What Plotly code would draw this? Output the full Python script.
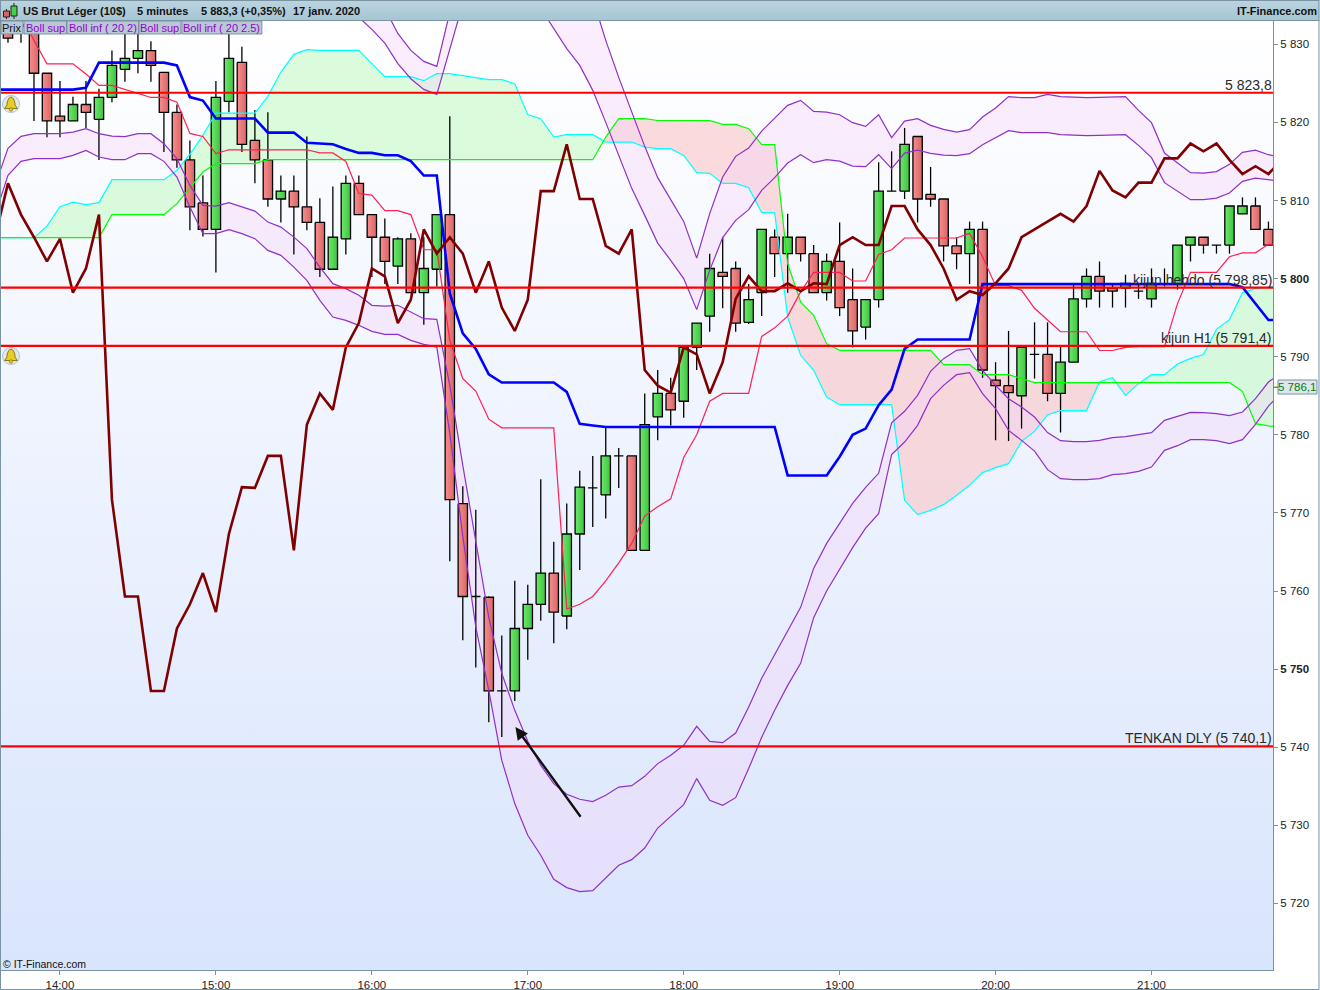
import plotly.graph_objects as go
import numpy as np

# ---------- data ----------
time_ticks = [4, 16, 28, 40, 52, 64, 76, 88]
time_labels = ["14:00", "15:00", "16:00", "17:00", "18:00", "19:00", "20:00", "21:00"]
price_ticks = [5830, 5820, 5810, 5800, 5790, 5780, 5770, 5760, 5750, 5740, 5730, 5720]
price_labels = ["5 830", "5 820", "5 810", "<b>5 800</b>", "5 790", "5 780", "5 770", "5 760", "<b>5 750</b>", "5 740", "5 730", "5 720"]

opens = [5832.0, 5832.5, 5831.5, 5826.3, 5820.8, 5820.2, 5822.3, 5820.4, 5823.2, 5826.8,
         5828.2, 5829.2, 5826.4, 5821.3, 5815.2, 5809.7, 5806.3, 5822.7, 5827.7, 5817.7,
         5815.2, 5810.2, 5811.2, 5809.2, 5807.2, 5801.2, 5805.1, 5812.2, 5808.2, 5805.3,
         5801.6, 5805.1, 5798.2, 5801.2, 5808.2, 5771.2, 5759.3, 5759.2, 5747.2, 5747.2,
         5755.2, 5758.3, 5762.3, 5756.8, 5767.3, 5773.2, 5772.3, 5777.3, 5777.3, 5765.2,
         5782.3, 5785.3, 5784.3, 5791.2, 5795.2, 5800.8, 5801.3, 5794.4, 5798.2, 5805.3,
         5803.2, 5805.3, 5803.2, 5798.2, 5802.2, 5797.3, 5793.8, 5797.3, 5811.2, 5811.2,
         5818.2, 5810.8, 5810.2, 5804.2, 5803.2, 5806.3, 5787.0, 5786.3, 5785.0, 5790.3,
         5790.3, 5785.3, 5789.3, 5797.4, 5800.3, 5798.8, 5798.8, 5798.4, 5797.4, 5799.3,
         5799.3, 5804.3, 5805.3, 5804.3, 5804.3, 5808.3, 5809.3, 5806.3]
highs = [5833.0, 5833.0, 5833.0, 5826.3, 5825.3, 5823.3, 5825.3, 5824.3, 5829.2, 5832.0,
         5832.4, 5830.4, 5826.4, 5822.3, 5817.7, 5813.2, 5825.3, 5832.0, 5829.7, 5821.6,
         5821.3, 5813.2, 5813.2, 5818.2, 5810.3, 5811.8, 5813.2, 5813.2, 5808.2, 5807.7,
         5805.3, 5805.8, 5805.3, 5808.2, 5820.8, 5773.4, 5770.4, 5759.3, 5754.3, 5761.3,
         5760.8, 5774.3, 5766.3, 5771.2, 5775.4, 5777.3, 5781.1, 5778.3, 5777.3, 5785.3,
         5788.3, 5787.3, 5791.2, 5794.3, 5803.2, 5805.3, 5802.2, 5799.3, 5806.3, 5806.3,
         5808.3, 5805.3, 5804.3, 5803.2, 5807.2, 5801.3, 5797.3, 5814.9, 5816.3, 5819.3,
         5818.2, 5814.3, 5810.2, 5805.3, 5807.3, 5807.3, 5789.3, 5793.3, 5791.2, 5794.4,
         5794.4, 5791.3, 5799.4, 5801.3, 5802.2, 5799.4, 5800.5, 5799.4, 5801.3, 5801.3,
         5804.3, 5805.3, 5805.3, 5804.3, 5809.3, 5810.4, 5810.4, 5807.3]
lows = [5830.2, 5830.2, 5820.2, 5818.1, 5818.1, 5820.2, 5819.3, 5815.2, 5822.6, 5825.2,
        5826.3, 5825.2, 5816.2, 5814.2, 5806.2, 5805.4, 5800.8, 5821.3, 5816.2, 5812.2,
        5809.2, 5807.2, 5803.1, 5806.2, 5800.2, 5801.2, 5803.1, 5808.2, 5800.2, 5799.3,
        5799.3, 5798.2, 5794.1, 5799.0, 5763.8, 5753.7, 5750.2, 5743.2, 5741.3, 5745.9,
        5751.2, 5756.2, 5753.3, 5755.1, 5762.7, 5768.2, 5769.3, 5773.2, 5765.2, 5765.2,
        5779.3, 5781.2, 5782.2, 5788.3, 5793.2, 5796.2, 5793.2, 5794.2, 5795.2, 5800.2,
        5798.2, 5802.2, 5798.2, 5797.2, 5795.2, 5791.2, 5792.2, 5796.3, 5811.2, 5810.2,
        5807.2, 5809.2, 5802.2, 5801.2, 5799.3, 5787.3, 5779.3, 5779.2, 5780.8, 5787.2,
        5784.3, 5780.3, 5789.3, 5796.3, 5796.3, 5796.3, 5796.3, 5797.4, 5796.3, 5799.0,
        5798.6, 5802.2, 5803.2, 5803.2, 5803.2, 5808.3, 5806.3, 5804.3]
closes = [5830.8, 5832.3, 5826.3, 5820.2, 5820.2, 5822.3, 5821.3, 5823.2, 5827.3, 5828.2,
          5829.2, 5827.3, 5821.3, 5815.2, 5809.2, 5806.3, 5823.2, 5828.2, 5817.2, 5815.2,
          5810.2, 5811.2, 5809.2, 5807.2, 5801.2, 5805.3, 5812.2, 5808.2, 5805.3, 5802.2,
          5805.1, 5798.2, 5801.3, 5808.2, 5771.7, 5759.3, 5759.3, 5747.2, 5747.2, 5755.2,
          5758.3, 5762.3, 5757.3, 5767.3, 5773.3, 5773.2, 5777.3, 5777.3, 5765.2, 5781.3,
          5785.3, 5783.2, 5791.2, 5794.3, 5801.3, 5800.3, 5794.3, 5797.3, 5806.3, 5803.2,
          5805.3, 5803.2, 5798.2, 5802.2, 5796.3, 5793.3, 5797.3, 5811.2, 5811.2, 5817.2,
          5810.2, 5810.2, 5804.2, 5803.2, 5806.3, 5788.3, 5786.3, 5785.4, 5791.2, 5790.3,
          5785.3, 5789.3, 5797.4, 5800.3, 5798.4, 5798.4, 5799.4, 5798.4, 5799.4, 5799.3,
          5804.3, 5805.3, 5804.3, 5804.3, 5809.3, 5809.3, 5806.3, 5804.3]

# lines below start one bar before the first candle and end one bar after the last
lagging = [5805.3, 5812.2, 5808.2, 5805.3, 5802.2, 5805.1, 5798.2, 5801.3, 5808.2, 5771.7,
           5759.3, 5759.3, 5747.2, 5747.2, 5755.2, 5758.3, 5762.3, 5757.3, 5767.3, 5773.3,
           5773.2, 5777.3, 5777.3, 5765.2, 5781.3, 5785.3, 5783.2, 5791.2, 5794.3, 5801.3,
           5800.3, 5794.3, 5797.3, 5806.3, 5803.2, 5805.3, 5803.2, 5798.2, 5802.2, 5796.3,
           5793.3, 5797.3, 5811.2, 5811.2, 5817.2, 5810.2, 5810.2, 5804.2, 5803.2, 5806.3,
           5788.3, 5786.3, 5785.4, 5791.2, 5790.3, 5785.3, 5789.3, 5797.4, 5800.3, 5798.4,
           5798.4, 5799.4, 5798.4, 5799.4, 5799.3, 5804.3, 5805.3, 5804.3, 5804.3, 5809.3,
           5809.3, 5806.3, 5804.3, 5801.3, 5797.3, 5798.4, 5797.9, 5799.4, 5801.3, 5805.3,
           5806.3, 5807.3, 5808.3, 5807.3, 5809.3, 5813.8, 5811.3, 5810.4, 5812.3, 5812.3,
           5815.4, 5815.4, 5817.3, 5816.3, 5817.3, 5815.2, 5813.4, 5814.4, 5813.4, 5815.2]
tenkan = [5838.0, 5836.0, 5833.8, 5830.5, 5827.5, 5827.5, 5827.5, 5826.2, 5824.75, 5824.75,
          5824.2, 5823.7, 5823.2, 5823.2, 5822.6, 5818.6, 5818.2, 5816.0, 5816.5, 5816.5,
          5816.5, 5816.5, 5816.5, 5816.5, 5816.5, 5816.1, 5816.1, 5815.0, 5810.9, 5810.7,
          5808.7, 5808.7, 5808.2, 5803.7, 5803.7, 5792.1, 5787.2, 5785.6, 5782.0, 5780.9,
          5780.9, 5780.9, 5780.9, 5780.9, 5757.7, 5758.3, 5759.3, 5761.3, 5763.6, 5766.1,
          5769.6, 5770.8, 5771.8, 5777.1, 5780.0, 5784.3, 5785.3, 5785.3, 5785.3, 5792.6,
          5793.7, 5795.2, 5798.3, 5800.8, 5800.8, 5800.8, 5799.7, 5799.7, 5803.1, 5803.7,
          5805.2, 5805.2, 5805.2, 5805.2, 5805.2, 5805.8, 5802.8, 5799.1, 5799.1, 5798.5,
          5796.2, 5794.7, 5793.2, 5793.2, 5793.2, 5790.8, 5790.8, 5791.2, 5791.3, 5791.3,
          5791.3, 5796.8, 5800.8, 5800.8, 5800.8, 5802.8, 5803.3, 5803.3, 5804.4, 5804.4]
kijun = [5824.2, 5824.2, 5824.2, 5824.2, 5824.2, 5824.2, 5824.2, 5824.45, 5827.66, 5827.66,
         5827.66, 5827.66, 5827.66, 5827.66, 5827.3, 5823.25, 5822.8, 5820.5, 5820.5, 5820.5,
         5820.5, 5818.7, 5818.7, 5818.7, 5817.4, 5817.3, 5817.2, 5816.6, 5816.1, 5816.1,
         5815.8, 5815.8, 5815.05, 5813.2, 5813.2, 5798.1, 5793.0, 5791.0, 5787.75, 5786.7,
         5786.7, 5786.7, 5786.7, 5786.7, 5785.5, 5781.4, 5781.2, 5781.0, 5781.0, 5781.0,
         5781.0, 5781.0, 5781.0, 5781.0, 5781.0, 5781.0, 5781.0, 5781.0, 5781.0, 5781.0,
         5781.0, 5774.8, 5774.8, 5774.8, 5774.8, 5777.2, 5780.0, 5780.8, 5783.8, 5785.8,
         5791.0, 5792.2, 5792.2, 5792.2, 5792.2, 5792.2, 5799.3, 5799.3, 5799.3, 5799.3,
         5799.3, 5799.3, 5799.3, 5799.3, 5799.3, 5799.3, 5799.3, 5799.3, 5799.3, 5799.3,
         5799.3, 5799.3, 5799.3, 5799.3, 5799.3, 5799.3, 5798.9, 5796.8, 5794.7, 5794.7]
span_a = [5805.25, 5805.25, 5805.25, 5805.25, 5806.73, 5809.22, 5809.8, 5809.47, 5809.73, 5812.67,
          5812.67, 5812.67, 5812.67, 5812.67, 5813.86, 5815.91, 5818.34, 5821.2, 5821.2, 5821.2,
          5821.2, 5823.34, 5826.45, 5828.72, 5829.32, 5829.23, 5829.23, 5829.23, 5829.23, 5827.53,
          5825.86, 5825.86, 5825.86, 5825.35, 5826.24, 5826.24, 5825.94, 5825.73, 5825.48, 5825.48,
          5824.96, 5821.0, 5820.48, 5818.13, 5818.43, 5818.43, 5818.43, 5817.49, 5817.49, 5817.49,
          5816.85, 5816.64, 5816.64, 5815.78, 5813.57, 5813.48, 5812.2, 5812.2, 5811.65, 5808.45,
          5808.45, 5795.08, 5790.18, 5788.26, 5784.84, 5783.86, 5783.86, 5783.86, 5783.86, 5783.86,
          5771.61, 5769.78, 5770.33, 5771.06, 5772.25, 5773.53, 5775.16, 5775.8, 5776.31, 5779.16,
          5780.44, 5782.58, 5783.1, 5783.1, 5783.1, 5786.81, 5787.32, 5785.05, 5786.55, 5787.7,
          5787.7, 5789.06, 5789.79, 5790.27, 5793.5, 5794.75, 5798.2, 5798.72, 5798.92, 5799.1]
span_b = [5805.25, 5805.25, 5805.25, 5805.25, 5805.25, 5805.25, 5805.25, 5805.25, 5805.25, 5808.19,
          5808.19, 5808.19, 5808.19, 5808.19, 5809.6, 5811.65, 5813.65, 5814.72, 5814.72, 5814.72,
          5814.72, 5815.23, 5815.23, 5815.23, 5815.23, 5815.23, 5815.23, 5815.23, 5815.23, 5815.23,
          5815.23, 5815.23, 5815.23, 5815.23, 5815.23, 5815.23, 5815.23, 5815.23, 5815.23, 5815.23,
          5815.23, 5815.23, 5815.23, 5815.23, 5815.23, 5815.23, 5815.23, 5818.13, 5820.48, 5820.48,
          5820.48, 5820.25, 5820.23, 5820.23, 5820.23, 5820.23, 5819.75, 5819.75, 5819.2, 5817.15,
          5817.15, 5801.92, 5797.0, 5795.3, 5791.67, 5790.82, 5790.82, 5790.82, 5790.82, 5790.82,
          5790.82, 5790.82, 5790.82, 5788.98, 5788.98, 5788.98, 5787.7, 5787.7, 5787.7, 5787.19,
          5786.68, 5786.68, 5786.68, 5786.68, 5786.68, 5786.68, 5786.68, 5786.68, 5786.68, 5786.68,
          5786.68, 5786.68, 5786.68, 5786.68, 5786.68, 5786.68, 5785.57, 5781.43, 5781.15, 5780.96]
lower_2 = [5811.9, 5816.68, 5818.22, 5818.56, 5818.56, 5818.56, 5818.77, 5819.2, 5818.56, 5818.26,
           5818.18, 5818.56, 5818.56, 5817.28, 5815.36, 5811.94, 5809.38, 5809.29, 5809.73, 5809.16,
           5808.65, 5807.24, 5806.6, 5805.32, 5803.84, 5801.48, 5799.36, 5798.72, 5797.86, 5796.58,
           5796.49, 5796.58, 5795.72, 5794.87, 5794.78, 5786.33, 5776.09, 5766.23, 5756.63, 5749.46,
           5744.72, 5740.75, 5737.68, 5735.33, 5733.97, 5733.33, 5733.03, 5733.84, 5734.9, 5735.08,
           5736.27, 5737.9, 5738.96, 5740.24, 5742.67, 5740.75, 5740.58, 5741.81, 5745.14, 5748.82,
           5751.89, 5754.96, 5757.91, 5762.9, 5766.1, 5768.66, 5771.23, 5773.27, 5775.07, 5781.53,
           5783.01, 5785.05, 5788.13, 5789.75, 5790.82, 5791.03, 5788.26, 5786.33, 5784.63, 5783.56,
           5782.28, 5780.28, 5779.25, 5779.13, 5779.13, 5779.29, 5779.64, 5779.77, 5780.06, 5780.28,
           5781.85, 5782.37, 5782.88, 5782.84, 5782.71, 5782.45, 5782.92, 5784.63, 5786.76, 5788.0]
lower_25 = [5808.1, 5813.22, 5815.02, 5815.36, 5815.36, 5815.36, 5815.78, 5816.42, 5815.57, 5815.23,
            5815.23, 5816.0, 5816.0, 5815.02, 5813.0, 5809.16, 5805.76, 5805.76, 5806.27, 5805.76,
            5805.12, 5803.62, 5802.98, 5801.48, 5799.78, 5797.22, 5795.08, 5794.66, 5794.02, 5793.25,
            5792.86, 5792.86, 5792.1, 5791.58, 5791.24, 5780.19, 5767.0, 5755.39, 5747.28, 5738.32,
            5732.78, 5728.72, 5726.16, 5723.08, 5722.02, 5721.51, 5721.64, 5723.25, 5724.88, 5725.6,
            5727.09, 5729.65, 5731.15, 5732.65, 5735.98, 5733.2, 5732.56, 5733.54, 5737.26, 5741.26,
            5744.72, 5747.92, 5750.74, 5756.59, 5760.0, 5762.86, 5765.55, 5768.06, 5769.91, 5777.46,
            5779.08, 5781.21, 5784.63, 5786.33, 5787.7, 5787.96, 5785.27, 5783.35, 5780.57, 5779.29,
            5777.92, 5775.54, 5774.39, 5774.26, 5774.26, 5774.39, 5774.9, 5775.03, 5775.32, 5775.87,
            5778.01, 5778.61, 5779.38, 5779.38, 5779.25, 5778.87, 5779.38, 5781.34, 5783.68, 5785.44]
# upper bands are only on the chart from bar 26 on (before that they run above the top edge)
upper_start = 26
upper_2 = [5835.0, 5833.45, 5831.92, 5830.16, 5827.53, 5825.6, 5824.23, 5823.59, 5829.48, 5835.1,
           5841.0, 5844.0, 5845.0, 5842.0, 5837.3, 5834.6, 5832.04, 5829.45, 5827.31, 5824.11,
           5820.01, 5815.66, 5811.56, 5808.1, 5804.55, 5802.34, 5800.0, 5796.03, 5801.06, 5805.25,
           5807.46, 5808.83, 5811.3, 5812.93, 5814.8, 5815.87, 5814.85, 5815.23, 5815.05, 5814.41,
           5814.34, 5815.87, 5814.08, 5816.08, 5816.46, 5816.04, 5815.82, 5815.75, 5816.0, 5817.15,
           5818.0, 5818.95, 5818.69, 5818.69, 5818.69, 5818.43, 5818.34, 5818.31, 5818.34, 5818.43,
           5818.43, 5817.06, 5815.49, 5812.29, 5811.21, 5810.11, 5810.11, 5810.32, 5810.96, 5812.45,
           5812.88, 5812.62, 5812.45]
upper_25 = [5841.0, 5839.0, 5837.0, 5834.6, 5831.4, 5829.23, 5827.82, 5827.18, 5834.1, 5840.0,
            5848.0, 5851.0, 5850.0, 5849.0, 5847.0, 5845.0, 5843.0, 5841.0, 5838.2, 5835.9,
            5830.51, 5825.77, 5821.35, 5816.94, 5812.93, 5810.11, 5807.33, 5802.63, 5808.32, 5813.01,
            5815.66, 5816.72, 5818.89, 5820.56, 5822.19, 5822.83, 5821.42, 5821.33, 5820.99, 5819.97,
            5819.5, 5820.99, 5818.05, 5820.18, 5820.48, 5819.63, 5819.11, 5818.77, 5819.07, 5820.69,
            5821.84, 5823.3, 5823.17, 5823.17, 5823.59, 5823.3, 5823.21, 5823.17, 5823.21, 5823.3,
            5823.3, 5821.55, 5819.97, 5816.08, 5814.8, 5813.57, 5813.52, 5813.7, 5814.63, 5816.17,
            5816.46, 5815.87, 5815.53]

levels = [5823.8, 5798.85, 5791.4, 5740.1]
level_labels = ["5 823,8", "kijun hebdo (5 798,85)", "kijun H1 (5 791,4)", "TENKAN DLY (5 740,1)"]
arrow_tip = (39.05, 5742.6)
arrow_tail = (44.15, 5730.9)
last_price = 5786.1
last_label = "5 786,1"

# ---------- layout geometry ----------
W, H = 1320, 990
L, R, T, B = 1, 1273.5, 21, 970
xrange_ = [-0.538, 97.35]
yrange_ = [5711.47, 5832.99]
FONT = "Liberation Sans"
def px(x): return (x - L) / (R - L)
def py(y): return 1 - (y - T) / (B - T)

shapes, annos = [], []
def rect(x0, y0, x1, y1, fill, line=None, lw=1, layer="above"):
    shapes.append(dict(type="rect", xref="paper", yref="paper", x0=px(x0), x1=px(x1), y0=py(y1), y1=py(y0),
                       fillcolor=fill, line=dict(color=line or fill, width=lw if line else 0), layer=layer))
def label(x, y, text, size=11, color="#111", anchor="left", bold=False):
    annos.append(dict(xref="paper", yref="paper", x=px(x), y=py(y), text=f"<b>{text}</b>" if bold else text,
                      showarrow=False, xanchor=anchor, yanchor="middle",
                      font=dict(family=FONT, size=size, color=color), borderpad=0, borderwidth=0))

idx = np.arange(len(closes))
line_x = list(range(-1, len(closes) + 1))
upper_x = list(range(upper_start, upper_start + len(upper_2)))

fig = go.Figure()
common = dict(hoverinfo="skip", showlegend=False)

# background gradient
fig.add_trace(go.Scatter(x=[xrange_[0], xrange_[1], xrange_[1], xrange_[0], xrange_[0]],
                         y=[yrange_[0], yrange_[0], yrange_[1], yrange_[1], yrange_[0]],
                         mode="lines", line=dict(width=0), fill="toself",
                         fillgradient=dict(type="vertical", colorscale=[[0, "#d9e5fd"], [1, "#ffffff"]]), **common))

# Ichimoku cloud, split where the spans cross
def with_crossings(x, a, b):
    xs, aa, bb = [x[0]], [a[0]], [b[0]]
    for k in range(1, len(x)):
        d0, d1 = a[k-1] - b[k-1], a[k] - b[k]
        if d0 * d1 < 0:
            t = d0 / (d0 - d1)
            xc = x[k-1] + t * (x[k] - x[k-1])
            yc = a[k-1] + t * (a[k] - a[k-1])
            xs.append(xc); aa.append(yc); bb.append(yc)
        xs.append(x[k]); aa.append(a[k]); bb.append(b[k])
    return xs, np.array(aa), np.array(bb)

cx, ca, cb = with_crossings(line_x, span_a, span_b)
for edge, col in ((np.maximum(ca, cb), "rgba(197,250,197,0.6)"), (np.minimum(ca, cb), "rgba(250,197,197,0.6)")):
    fig.add_trace(go.Scatter(x=cx, y=cb, mode="lines", line=dict(width=0), **common))
    fig.add_trace(go.Scatter(x=cx, y=edge, mode="lines", line=dict(width=0), fill="tonexty", fillcolor=col, **common))

# Bollinger band fills
band_fill = "rgba(245,212,250,0.4)"
fig.add_trace(go.Scatter(x=line_x, y=lower_2, mode="lines", line=dict(width=0), **common))
fig.add_trace(go.Scatter(x=line_x, y=lower_25, mode="lines", line=dict(width=0), fill="tonexty", fillcolor=band_fill, **common))
fig.add_trace(go.Scatter(x=upper_x, y=upper_2, mode="lines", line=dict(width=0), **common))
fig.add_trace(go.Scatter(x=upper_x, y=upper_25, mode="lines", line=dict(width=0), fill="tonexty", fillcolor=band_fill, **common))

# candle wicks
wx, wy = [], []
for i, h, l in zip(idx, highs, lows):
    wx += [int(i), int(i), None]; wy += [l, h, None]
fig.add_trace(go.Scatter(x=wx, y=wy, mode="lines", line=dict(color="#000", width=1.3), **common))

# candle bodies (one trace each so that each keeps its own left-right shading)
hw = 0.36
for i, o, c in zip(idx, opens, closes):
    up = c > o
    scale = [[0, "#6ce86c"], [1, "#3fc43f"]] if up else [[0, "#f68e8e"], [1, "#d96666"]]
    fig.add_trace(go.Scatter(x=[i-hw, i+hw, i+hw, i-hw, i-hw], y=[o, o, c, c, o], mode="lines",
                             line=dict(color="#000", width=1.3), fill="toself",
                             fillgradient=dict(type="horizontal", colorscale=scale), **common))

# indicator lines
for ys, col, w, xs in ((span_a, "#00ffff", 1.2, line_x), (span_b, "#00ff00", 1.2, line_x),
                       (lower_2, "#9030c8", 1.2, line_x), (lower_25, "#9030c8", 1.2, line_x),
                       (upper_2, "#9030c8", 1.2, upper_x), (upper_25, "#9030c8", 1.2, upper_x),
                       (tenkan, "#ff2050", 1.2, line_x), (kijun, "#0000ff", 2.6, line_x),
                       (lagging, "#800000", 2.6, line_x)):
    fig.add_trace(go.Scatter(x=xs, y=ys, mode="lines", line=dict(color=col, width=w), **common))

# horizontal levels
for lv in levels:
    fig.add_trace(go.Scatter(x=xrange_, y=[lv, lv], mode="lines", line=dict(color="#ff0000", width=2.2), **common))
for lv, t in zip(levels, level_labels):
    annos.append(dict(xref="paper", yref="y", x=px(1274.5), y=lv, text=t, showarrow=False, xanchor="right", yanchor="middle",
                      yshift=8, font=dict(family=FONT, size=14, color="#2a2a2a")))

# arrow
annos.append(dict(x=arrow_tip[0], y=arrow_tip[1], ax=arrow_tail[0], ay=arrow_tail[1], xref="x", yref="y", axref="x", ayref="y",
                  text="", showarrow=True, arrowhead=2, arrowsize=1.05, arrowwidth=2.4, arrowcolor="#111"))

# header bar
c0, c1 = np.array([0xbb, 0xd4, 0xe0]), np.array([0xa8, 0xc6, 0xd5])
for r in range(20):
    col = c0 + (c1 - c0) * r / 19
    rect(0, r, W, r + 1, "rgb(%d,%d,%d)" % tuple(col))
rect(0, 20, W, 21, "#7a93a2")
rect(0, 0, W, 1, "#7a93a2")
# header icon
shapes.append(dict(type="line", xref="paper", yref="paper", x0=px(6.5), x1=px(6.5), y0=py(19), y1=py(9), line=dict(color="#222", width=1)))
shapes.append(dict(type="line", xref="paper", yref="paper", x0=px(14), x1=px(14), y0=py(19), y1=py(3), line=dict(color="#222", width=1)))
rect(3.5, 11, 9.5, 17, "#e06060", "#222", 1)
rect(11, 6, 17, 16, "#46d046", "#222", 1)
label(23, 11, "US Brut Léger (10$)", bold=True)
label(137, 11, "5 minutes", bold=True)
label(201, 11, "5 883,3 (+0,35%)", bold=True)
label(293, 11, "17 janv. 2020", bold=True)
label(1318, 11, "IT-Finance.com", anchor="right", bold=True)

# indicator legend
cells = [(1, 23, "Prix", "#111"), (24, 66.5, "Boll sup", "#9400d3"), (67, 138.5, "Boll inf ( 20 2)", "#9400d3"),
         (139, 181, "Boll sup", "#9400d3"), (182, 262, "Boll inf ( 20 2.5)", "#9400d3")]
for x0, x1, t, col in cells:
    rect(x0, 21, x1, 34, "#b9c8d5", "#7a93a2", 1)
    label((x0 + x1) / 2, 27.5, t, size=11, color=col, anchor="center")

# bells
def bell(cx_, cy):
    shapes.append(dict(type="circle", xref="paper", yref="paper", x0=px(cx_-8.5), x1=px(cx_+8.5), y0=py(cy+8.5), y1=py(cy-8.5),
                       fillcolor="#e3e8ee", line=dict(color="#b5c2cc", width=1), layer="above"))
    pts = [("M", 0, -7), ("L", -2.3, -5.5), ("L", -3.8, -2), ("L", -4, 1), ("L", -6.5, 4.5), ("L", 6.5, 4.5), ("L", 4, 1), ("L", 3.8, -2), ("L", 2.3, -5.5)]
    path = " ".join(f"{c} {px(cx_+dx):.6f} {py(cy+dy):.6f}" for c, dx, dy in pts) + " Z"
    shapes.append(dict(type="path", xref="paper", yref="paper", path=path, fillcolor="#e8cc28", line=dict(color="#8f7a10", width=1), layer="above"))
    shapes.append(dict(type="circle", xref="paper", yref="paper", x0=px(cx_-1.7), x1=px(cx_+1.7), y0=py(cy+7.2), y1=py(cy+3.8),
                       fillcolor="#e8cc28", line=dict(color="#8f7a10", width=0.8), layer="above"))
bell(11, 104)
bell(11, 356)

# last price tag
rect(1278.5, 380, 1317.5, 394, "#dfe6ea", "#7a93a2", 1)
annos.append(dict(xref="paper", yref="y", x=px(1298), y=last_price, text=last_label, showarrow=False, xanchor="center", yanchor="middle",
                  font=dict(family=FONT, size=11.5, color="#008000")))
shapes.append(dict(type="line", xref="paper", yref="y", x0=px(1274), x1=px(1278.5), y0=last_price, y1=last_price,
                   line=dict(color="#008000", width=1)))

label(3, 964, "© IT-Finance.com", size=10.5, color="#111")

# outer frame
shapes.append(dict(type="rect", xref="paper", yref="paper", x0=px(0.5), x1=px(1319.5), y0=py(989.5), y1=py(0.5),
                   line=dict(color="#7a93a2", width=1), fillcolor="rgba(0,0,0,0)", layer="above"))

fig.update_layout(
    width=W, height=H, margin=dict(l=L, r=W - R, t=T, b=H - B, pad=0, autoexpand=False),
    paper_bgcolor="#ffffff", plot_bgcolor="#ffffff", showlegend=False, hovermode=False,
    shapes=shapes, annotations=annos,
    xaxis=dict(range=xrange_, tickvals=time_ticks, ticktext=time_labels, ticks="outside", ticklen=4, tickcolor="#7a93a2", tickwidth=1,
               showgrid=False, zeroline=False, showline=True, linecolor="#7a93a2", linewidth=1,
               tickfont=dict(family=FONT, size=11.5, color="#222"), fixedrange=True),
    yaxis=dict(range=yrange_, side="right", tickvals=price_ticks, ticktext=price_labels, ticks="outside", ticklen=4, tickcolor="#7a93a2", tickwidth=1,
               showgrid=False, zeroline=False, showline=True, linecolor="#7a93a2", linewidth=1,
               tickfont=dict(family=FONT, size=11.5, color="#222"), fixedrange=True),
)

fig.write_html("out.html", config=dict(displayModeBar=False),
               post_script="document.body.style.margin='0';document.body.style.overflow='hidden';")
